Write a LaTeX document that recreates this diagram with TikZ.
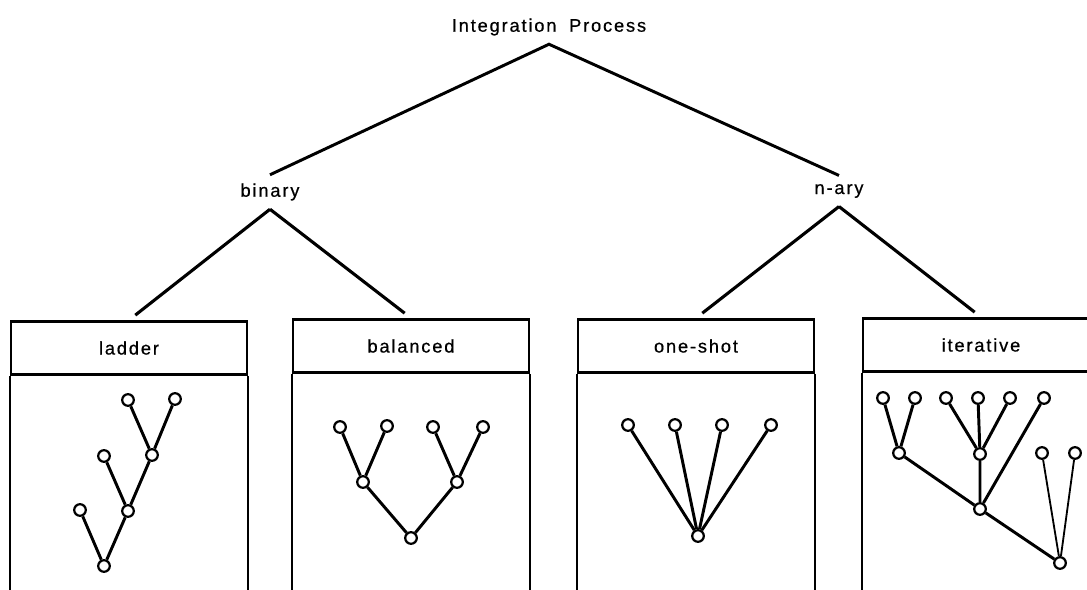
\documentclass[tikz,border=0pt]{standalone}
\usepackage{fontspec}
\newfontfamily\labelfont{Liberation Sans}[LetterSpace=10,FakeBold=0.6]
\usetikzlibrary{positioning}

\tikzset{
  lbl/.style={font=\labelfont\fontsize{13}{15}\selectfont, inner sep=6pt},
  head/.style={draw, line width=2pt, minimum width=5.9cm, minimum height=1.325cm,
    inner sep=0pt, font=\labelfont\fontsize{13}{15}\selectfont},
  side/.style={line width=1.5pt},
  link/.style={line width=2.2pt, shorten >=0.2cm},
  vx/.style={circle, draw, fill=white, line width=1.6pt, minimum size=0.29cm, inner sep=0pt},
  twig/.style={line width=2.1pt}
}

\begin{document}
\begin{tikzpicture}[x=0.025cm, y=-0.025cm]
\useasboundingbox (0,0) rectangle (1087,590);
\clip (0,0) rectangle (1087,590);
\coordinate (bot) at (0,600);

% --- classification ---
\node[lbl] (proc) at (549,27) {Integration\hspace{9pt}Process};
\node[lbl] (binary) at (270,192) {binary};
\node[lbl] (nary) at (839,191) {n-ary};

\draw[twig] (binary.north) -- (proc.south) -- (nary.north);

% --- strategy boxes ---
\node[head] (ladder) at (129,348) {ladder};
\node[head] (balanced) at (411,346) {balanced};
\node[head] (oneshot) at (696,346) {one-shot};
\node[head] (iter) at (981,345) {iterative};

\foreach \b in {ladder,balanced,oneshot,iter}{
  \draw[side] (\b.south west) -- (\b.south west |- bot);
  \draw[side] (\b.south east) -- (\b.south east |- bot);
}

\draw[link] (binary.south) -- (ladder.north);
\draw[link] (binary.south) -- (balanced.north);
\draw[link] (nary.south) -- (oneshot.north);
\draw[link] (nary.south) -- (iter.north);

% --- ladder tree ---
\node[vx] (l1) at (128,400) {};
\node[vx] (l2) at (175,399) {};
\node[vx] (l3) at (152,455) {};
\node[vx] (l4) at (104,456) {};
\node[vx] (l5) at (128,511) {};
\node[vx] (l6) at (80,510) {};
\node[vx] (l7) at (104,566) {};
\draw[twig] (l1) -- (l3) -- (l2);
\draw[twig] (l3) -- (l5) -- (l4);
\draw[twig] (l5) -- (l7) -- (l6);

% --- balanced tree ---
\node[vx] (b1) at (340,427) {};
\node[vx] (b2) at (387,426) {};
\node[vx] (b3) at (433,427) {};
\node[vx] (b4) at (483,427) {};
\node[vx] (b5) at (363,482) {};
\node[vx] (b6) at (457,482) {};
\node[vx] (b7) at (411,538) {};
\draw[twig] (b1) -- (b5) -- (b2);
\draw[twig] (b3) -- (b6) -- (b4);
\draw[twig] (b5) -- (b7) -- (b6);

% --- one-shot tree ---
\node[vx] (o0) at (698,536) {};
\foreach \x [count=\i] in {628,675,722,771}{
  \node[vx] (o\i) at (\x,425) {};
  \draw[twig] (o\i) -- (o0);
}

% --- iterative tree ---
\foreach \x [count=\i] in {883,915,946,978,1010,1044}
  \node[vx] (i\i) at (\x,398) {};
\node[vx] (i7) at (899,453) {};
\node[vx] (i8) at (980,454) {};
\node[vx] (i9) at (980,509) {};
\node[vx] (i10) at (1042,453) {};
\node[vx] (i11) at (1075,453) {};
\node[vx] (i12) at (1060,563) {};
\draw[twig] (i1) -- (i7) -- (i2);
\draw[twig] (i3) -- (i8) -- (i5);
\draw[twig] (i4) -- (i8) -- (i9);
\draw[twig] (i6) -- (i9);
\draw[twig] (i7) -- (i9) -- (i12);
\draw[line width=1.3pt] (i10) -- (i12) -- (i11);
\end{tikzpicture}
\end{document}
